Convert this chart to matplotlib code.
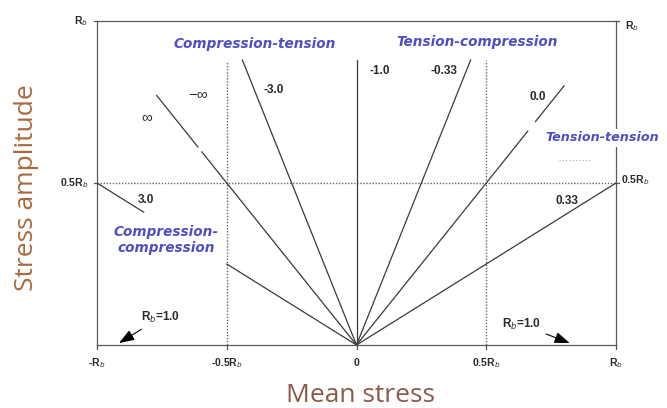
import numpy as np
import matplotlib
matplotlib.use("Agg")
import matplotlib.pyplot as plt

# Stress-ratio lines: label, ratio R, drawn amplitude segments (fraction of R_b)
ratio_labels = ["-3.0", "-1.0", "-0.33", "0.0", "0.33", "\u221e", "3.0"]
ratio_values = [-3.0, -1.0, -1 / 3, 0.0, 1 / 3, np.inf, 3.0]
ratio_segments = [
    [(0.0, 0.88)],
    [(0.0, 0.88)],
    [(0.0, 0.88)],
    [(0.0, 0.66), (0.69, 0.80)],
    [(0.0, 0.50)],
    [(0.0, 0.596), (0.611, 0.77)],
    [(0.0, 0.25), (0.41, 0.50)],
]

# Label anchor positions (mean, amplitude) for each ratio line
ratio_label_pos = {
    "-3.0": (-0.32, 0.787),
    "-1.0": (0.089, 0.846),
    "-0.33": (0.336, 0.846),
    "0.0": (0.699, 0.765),
    "0.33": (0.811, 0.444),
    "\u221e": (-0.807, 0.704),
    "-\u221e": (-0.61, 0.775),
    "3.0": (-0.811, 0.448),
}

x_ticks = [-1.0, -0.5, 0.0, 0.5, 1.0]
x_tick_labels = ["-R$_b$", "-0.5R$_b$", "0", "0.5R$_b$", "R$_b$"]
y_ticks = [0.5, 1.0]
y_tick_labels = ["0.5R$_b$", "R$_b$"]

region_labels = ["Compression-tension", "Tension-compression",
                 "Tension-tension", "Compression-\ncompression"]

line_col = "#3a3a3a"
region_col = "#4f4fc4"
axis_label_col = "#a86a3c"

fig = plt.figure(figsize=(6.67, 4.08), dpi=100)
ax = fig.add_axes([97 / 667, 63 / 408, 519 / 667, 324 / 408])
ax.set_xlim(-1, 1)
ax.set_ylim(0, 1)
ax.axis("off")

# Frame
frame_kw = dict(color="#5a5a5a", lw=0.9, clip_on=False, zorder=2)
ax.plot([-1, -1], [0, 1], **frame_kw)
ax.plot([-1, 1], [1, 1], **frame_kw)
ax.plot([1, 1], [0, 1], **frame_kw)
ax.plot([-1, 1], [0, 0], **frame_kw)

# Small ticks outside the frame
for xt in x_ticks:
    ax.plot([xt, xt], [0, -0.012], color="#555555", lw=0.9, clip_on=False)
for yt in y_ticks:
    ax.plot([-1.012, -1], [yt, yt], color="#555555", lw=0.9, clip_on=False)
    ax.plot([1, 1.012], [yt, yt], color="#555555", lw=0.9, clip_on=False)

# Dotted guide lines
dot_kw = dict(color="#666666", lw=1.0, ls=(0, (1, 1.2)), clip_on=False, zorder=1)
ax.plot([-1, 1], [0.5, 0.5], **dot_kw)
ax.plot([-0.5, -0.5], [0, 0.877], **dot_kw)
ax.plot([0.5, 0.5], [0, 0.88], **dot_kw)
ax.plot([0.78, 0.905], [0.57, 0.57], color="#aaaaaa", lw=0.8, ls=(0, (1, 2)))

# Constant-ratio lines through the origin: mean/amplitude = (1 + R) / (1 - R)
for lab, r, segs in zip(ratio_labels, ratio_values, ratio_segments):
    slope = -1.0 if np.isinf(r) else (1 + r) / (1 - r)
    for a0, a1 in segs:
        amp = np.array([a0, a1])
        ax.plot(slope * amp, amp, color=line_col, lw=0.9, zorder=3)

num_kw = dict(fontsize=8.5, fontweight="bold", color="#2a2a2a",
              family="Liberation Sans", ha="center", va="center")
for lab, (mx, ay) in ratio_label_pos.items():
    if lab == "-\u221e":
        ax.text(mx, ay, "\u2212\u221e", **{**num_kw, "fontsize": 11, "fontweight": "normal"})
    elif lab == "\u221e":
        ax.text(mx, ay, lab, **{**num_kw, "fontsize": 11, "fontweight": "normal"})
    else:
        ax.text(mx, ay, lab, **num_kw)

# Axis tick labels
tick_kw = dict(fontsize=7.5, fontweight="bold", color="#2a2a2a", family="Liberation Sans")
for xt, lab in zip(x_ticks, x_tick_labels):
    ax.text(xt, -0.055, lab, ha="center", va="center", **tick_kw)
for yt, lab in zip(y_ticks, y_tick_labels):
    ax.text(-1.035, yt, lab, ha="right", va="center", **tick_kw)
ax.text(1.018, 0.51, "0.5R$_b$", ha="left", va="center", **tick_kw)
ax.text(1.035, 0.985, "R$_b$", ha="left", va="center", **tick_kw)

# Region names
reg_kw = dict(fontweight="bold", style="italic", color=region_col,
              family="DejaVu Sans", zorder=5)
ax.text(-0.394, 0.929, region_labels[0], ha="center", va="center", fontsize=9.8, **reg_kw)
ax.text(0.463, 0.935, region_labels[1], ha="center", va="center", fontsize=9.8, **reg_kw)
ax.text(0.727, 0.639, region_labels[2], ha="left", va="center", fontsize=9.2,
        bbox=dict(facecolor="white", edgecolor="none", pad=2), clip_on=False, **reg_kw)
ax.text(-0.734, 0.324, region_labels[3], ha="center", va="center", fontsize=9.8,
        linespacing=1.2, **reg_kw)

# R = 1.0 annotations on the mean-stress axis
arrow_props = dict(arrowstyle="-|>,head_length=1.1,head_width=0.4",
                   color="black", lw=0.8, shrinkA=2, shrinkB=0)
ax.annotate("R$_b$=1.0", xy=(-0.915, 0.006), xytext=(-0.83, 0.085),
            fontsize=8.5, fontweight="bold", color="#2a2a2a", family="Liberation Sans",
            ha="left", va="center", arrowprops=arrow_props)
ax.annotate("R$_b$=1.0", xy=(0.822, 0.006), xytext=(0.56, 0.063),
            fontsize=8.5, fontweight="bold", color="#2a2a2a", family="Liberation Sans",
            ha="left", va="center", arrowprops=arrow_props)

# Axis titles
fig.text(27 / 667, 1 - 188 / 408, "Stress amplitude", rotation=90, fontsize=19,
         color=axis_label_col, family="Open Sans", ha="center", va="center")
fig.text(361 / 667, 1 - 395 / 408, "Mean stress", fontsize=19,
         color="#8a5a48", family="Open Sans", ha="center", va="center")

fig.savefig("out.png", dpi=100)
